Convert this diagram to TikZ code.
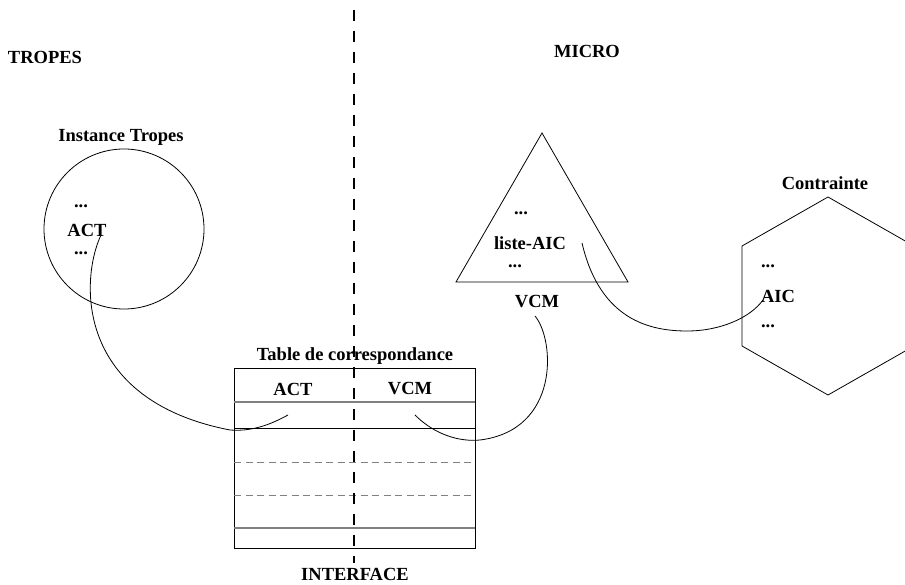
\documentclass[tikz,border=0pt]{standalone}
\usepackage{fontspec}
\setmainfont{Liberation Serif}
\usetikzlibrary{calc}

\tikzset{
  lbl/.style={font=\fontsize{18.5}{20}\selectfont\bfseries,inner sep=0pt},
  rowline/.style={draw=gray,line width=1.6pt},
  rowdash/.style={draw=gray,line width=1pt,dash pattern=on 7pt off 4.5pt},
  link/.style={line width=0.8pt},
}

\begin{document}
\begin{tikzpicture}[x=1pt,y=-1pt,line width=0.8pt]
  \useasboundingbox (0,0) rectangle (905,585);
  \clip (0,0) rectangle (905,585);
  % zone labels
  \node[lbl] (tropes) at (45,57) {TROPES};
  \node[lbl] (micro) at (587,51) {MICRO};
  \node[lbl] (interface) at (355,574) {INTERFACE};

  % Tropes instance
  \draw (124,229) circle (80);
  \node[lbl] (inst) at (121,137) {Instance Tropes};
  \node[lbl] (dotsA1) at (81,206) {...};
  \node[lbl] (act) at (87,230) {ACT};
  \node[lbl] (dotsA2) at (81,253) {...};

  % correspondence table
  \draw (234,368) rectangle (475,548);
  \draw[rowline] (234,402) -- (475,402);
  \draw (234,428) -- (475,428);
  \draw[rowdash] (234,462) -- (475,462);
  \draw[rowdash] (234,495) -- (475,495);
  \draw[rowline] (234,528) -- (475,528);
  \node[lbl] (table) at (355,356) {Table de correspondance};
  \node[lbl] (tact) at (293,389) {ACT};
  \node[lbl] (tvcm) at (410,389) {VCM};

  % VCM triangle
  \draw (542,133) -- (456,282) -- (628,282) -- cycle;
  \node[lbl] (dotsV1) at (521,213) {...};
  \node[lbl] (liste) at (530,243) {liste-AIC};
  \node[lbl] (dotsV2) at (515,266) {...};
  \node[lbl] (vcm) at (537,302) {VCM};

  % constraint hexagon
  \draw (828,197) -- (742,246) -- (742,346) -- (828,395) -- (914,346) -- (914,246) -- cycle;
  \node[lbl] (contr) at (825,183) {Contrainte};
  \node[lbl] (dotsC1) at (768,266) {...};
  \node[lbl] (aic) at (778,296) {AIC};
  \node[lbl] (dotsC2) at (768,326) {...};

  % link ends
  \coordinate (actend) at (101,235);
  \coordinate (tactend) at (288,415);
  \coordinate (tvcmend) at (415,415);
  \coordinate (vcmend) at (535,316);
  \coordinate (listeend) at (582,243);
  \coordinate (aicend) at (763,300);

  \draw[link] (actend) .. controls (80,280) and (75,400) .. (230,430)
    .. controls (255,432) and (275,422) .. (tactend);
  \draw[link] (tvcmend) .. controls (435,435) and (460,442) .. (480,440)
    .. controls (560,430) and (555,340) .. (vcmend);
  \draw[link] (listeend) .. controls (600,320) and (650,331) .. (687,331)
    .. controls (720,331) and (750,318) .. (aicend);

  % border between zones
  \draw[line width=2.6pt,dash pattern=on 11pt off 10pt] (354,10) -- (354,563);
\end{tikzpicture}
\end{document}
